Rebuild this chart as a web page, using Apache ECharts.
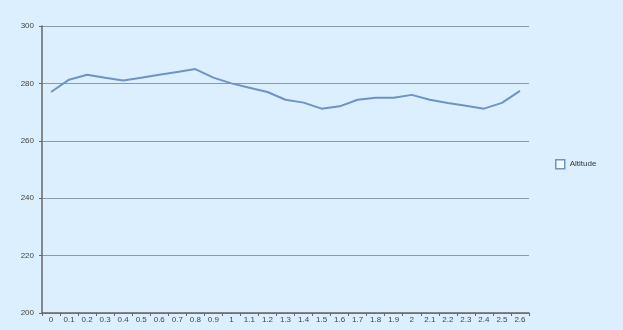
<!DOCTYPE html>
<html><head><meta charset="utf-8">
<script src="https://cdn.jsdelivr.net/npm/echarts@6/dist/echarts.min.js"></script>
<style>html,body{margin:0;padding:0;background:#dcefff;}#c{width:623px;height:330px;}</style>
</head><body><div id="c"></div>
<script>
const categories = ['0','0.1','0.2','0.3','0.4','0.5','0.6','0.7','0.8','0.9','1','1.1','1.2','1.3','1.4','1.5','1.6','1.7','1.8','1.9','2','2.1','2.2','2.3','2.4','2.5','2.6'];
const altitude = [277, 281.3, 283, 282, 281, 282, 283, 284, 285, 282, 280, 278.5, 277, 274.3, 273.3, 271.2, 272, 274.3, 275, 275, 276, 274.3, 273.2, 272.2, 271.2, 273.2, 277.4];
const yTicks = [200, 220, 240, 260, 280, 300];

const chart = echarts.init(document.getElementById('c'), null, {renderer: 'canvas'});
chart.setOption({
  backgroundColor: '#dcefff',
  animation: false,
  grid: {left: 42, right: 94, top: 26, bottom: 17, containLabel: false},
  legend: {
    orient: 'vertical', left: 555, top: 159, padding: 0,
    itemWidth: 9, itemHeight: 9, itemGap: 4,
    icon: 'rect',
    textStyle: {fontSize: 8, color: '#333', fontFamily: 'Liberation Sans'},
    data: [{name: 'Altitude', itemStyle: {color: '#f4f9ff', borderColor: '#6d94c4', borderWidth: 1.5}}]
  },
  xAxis: {
    type: 'category', data: categories, boundaryGap: true,
    axisLine: {lineStyle: {color: '#666', width: 1.5}},
    axisTick: {show: true, length: 3, inside: false, lineStyle: {color: '#666'}},
    axisLabel: {fontSize: 8, color: '#444', margin: 3, interval: 0, fontFamily: 'Liberation Sans'},
    splitLine: {show: false}
  },
  yAxis: {
    type: 'value', min: yTicks[0], max: yTicks[yTicks.length-1], interval: 20,
    axisLine: {show: true, lineStyle: {color: '#666', width: 1.5}},
    axisTick: {show: true, length: 3, lineStyle: {color: '#666'}},
    axisLabel: {fontSize: 8, color: '#444', margin: 8, fontFamily: 'Liberation Sans'},
    splitLine: {show: true, lineStyle: {color: '#8a9aa8', width: 1}}
  },
  series: [{
    name: 'Altitude', type: 'line', data: altitude,
    symbol: 'none', smooth: false,
    lineStyle: {color: '#6d94c4', width: 2},
    itemStyle: {color: '#6d94c4'}
  }]
});
</script></body></html>
